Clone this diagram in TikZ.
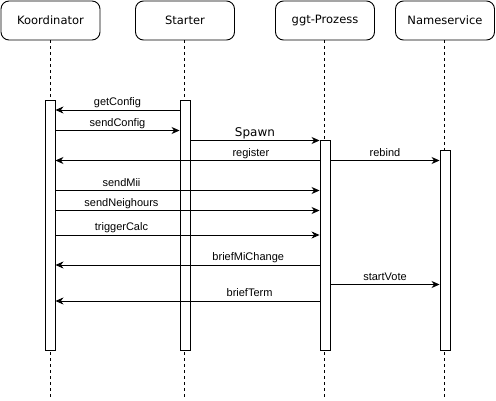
\documentclass[tikz,border=0pt]{standalone}
\usepackage{fontspec}
\setmainfont{Liberation Sans}
\newfontfamily\headfont{DejaVu Sans}
\usetikzlibrary{arrows.meta}

\begin{document}
\begin{tikzpicture}[every node/.style={inner sep=0pt},x=1pt,y=-1pt,line width=0.9pt,
  head/.style={draw,rounded corners=8pt,minimum width=99pt,minimum height=39pt,
    font=\headfont\fontsize{11.5}{14}\selectfont},
  bar/.style={draw,fill=white,minimum width=10pt},
  msg/.style={-{Stealth[length=8pt,width=7pt,inset=2.5pt]}},
  lbl/.style={font=\fontsize{11}{13}\selectfont,anchor=base,yshift=4pt}]
\useasboundingbox (0,0) rectangle (496,401);
% participants
\node[head] (hK) at (50.5,20.5) {Koordinator};
\node[head] (hS) at (185,20.5) {Starter};
\node[head] (hG) at (325,20.5) {ggt-Prozess};
\node[head] (hN) at (445,20.5) {Nameservice};
\foreach \n in {K,S,G,N}{%
\draw[dash pattern=on 3pt off 3pt,line width=0.8pt] (h\n.south) ++(-0.5,0) coordinate (t\n) -- (t\n |- 0,398);
}
% activation bars
\node[bar,minimum height=250pt] (bK) at (50,225) {};
\node[bar,minimum height=250pt] (bS) at (185,225) {};
\node[bar,minimum height=210pt] (bG) at (325,245) {};
\node[bar,minimum height=200pt] (bN) at (445,250) {};
% messages
\draw[msg] (bS.west |- 0,110) -- (bK.east |- 0,110) node[lbl,midway] {getConfig};
\draw[msg] (bK.east |- 0,130.5) -- (bS.west |- 0,130.5) node[lbl,midway] {sendConfig};
\draw[msg] (bS.east |- 0,140.5) -- (bG.west |- 0,140.5)
  node[lbl,midway,font=\headfont\fontsize{12}{14}\selectfont] {Spawn};
\draw[msg] (bG.west |- 0,160.5) -- (bK.east |- 0,160.5) node[lbl,pos=.26] {register};
\draw[msg] (bG.east |- 0,160.5) -- (bN.west |- 0,160.5) node[lbl,midway] {rebind};
\draw[msg] (bK.east |- 0,190.5) -- (bG.west |- 0,190.5) node[lbl,pos=.25] {sendMii};
\draw[msg] (bK.east |- 0,210.5) -- (bG.west |- 0,210.5) node[lbl,pos=.25] {sendNeighours};
\draw[msg] (bK.east |- 0,235) -- (bG.west |- 0,235) node[lbl,pos=.25] {triggerCalc};
\draw[msg] (bG.west |- 0,265) -- (bK.east |- 0,265) node[lbl,pos=.27] {briefMiChange};
\draw[msg] (bG.east |- 0,284.5) -- (bN.west |- 0,284.5) node[lbl,midway] {startVote};
\draw[msg] (bG.west |- 0,301) -- (bK.east |- 0,301) node[lbl,pos=.265] {briefTerm};
\end{tikzpicture}
\end{document}
